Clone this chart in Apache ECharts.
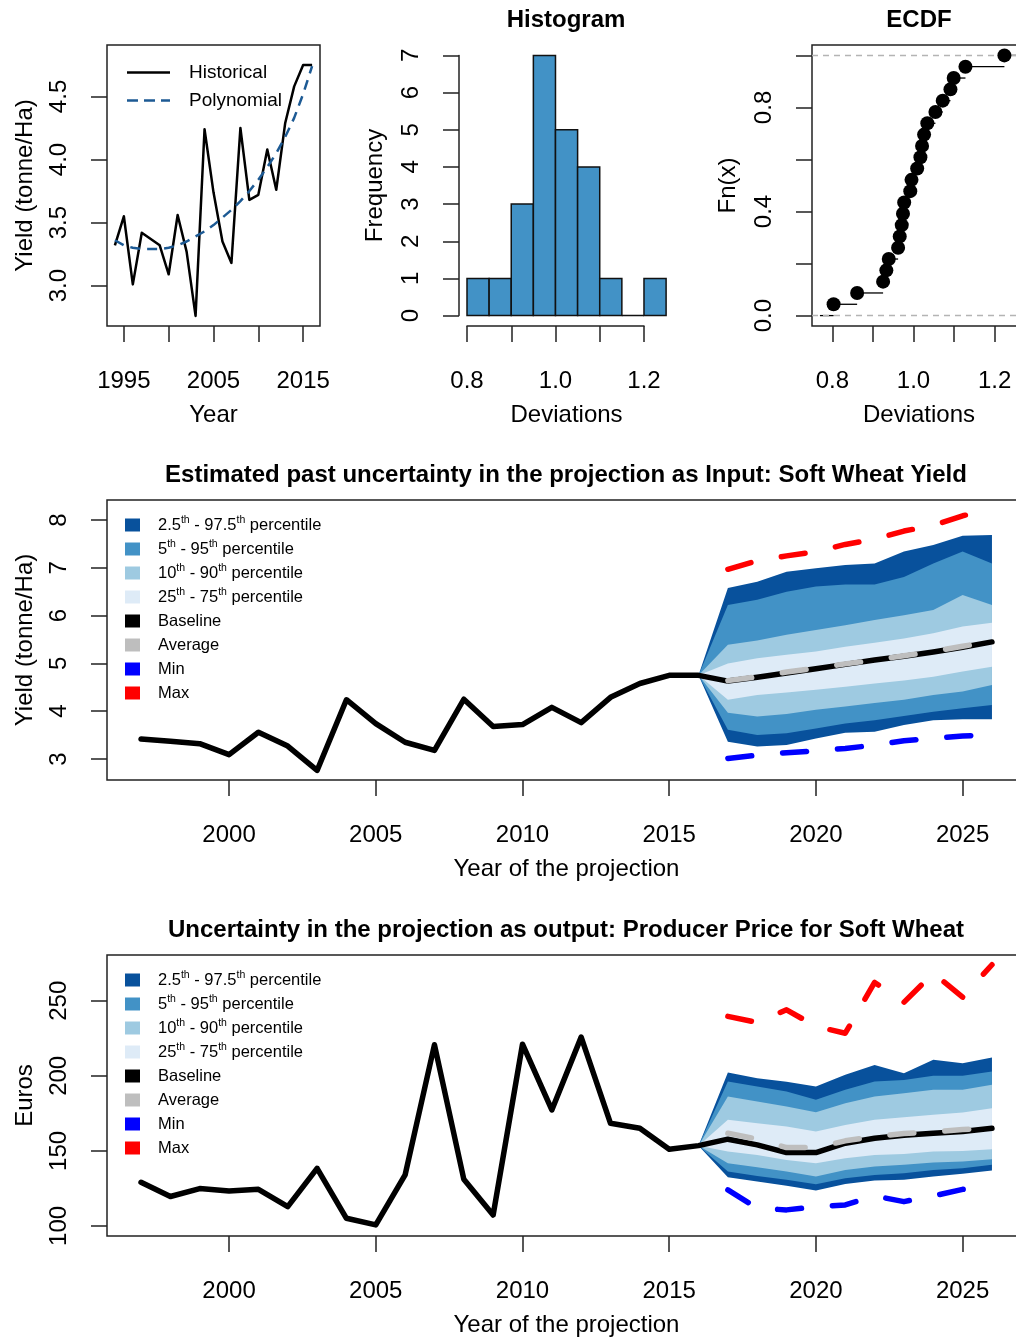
<!DOCTYPE html>
<html>
<head>
<meta charset="utf-8">
<script src="https://cdn.jsdelivr.net/npm/echarts@6/dist/echarts.min.js"></script>
<style>
  html, body { margin: 0; padding: 0; background: #fff; }
  #chart { width: 1016px; height: 1339px; }
</style>
</head>
<body>
<div id="chart"></div>
<script>
// ---------- Historical soft wheat yield (tonne/Ha) and its polynomial trend ----------
const histYears = [1994, 1995, 1996, 1997, 1998, 1999, 2000, 2001, 2002, 2003, 2004, 2005,
                   2006, 2007, 2008, 2009, 2010, 2011, 2012, 2013, 2014, 2015, 2016];
const histYield = [3.32, 3.55, 3.01, 3.42, 3.37, 3.32, 3.09, 3.56, 3.27, 2.76, 4.24, 3.74,
                   3.35, 3.18, 4.25, 3.68, 3.72, 4.08, 3.76, 4.29, 4.58, 4.75, 4.75];
const polyYield = [3.36, 3.32, 3.30, 3.29, 3.29, 3.29, 3.30, 3.32, 3.35, 3.39, 3.43, 3.48,
                   3.54, 3.60, 3.67, 3.75, 3.84, 3.94, 4.05, 4.18, 4.33, 4.52, 4.74];

// Relative deviations of the observed yield from the trend (sorted)
const deviations = [0.803, 0.861, 0.925, 0.933, 0.939, 0.962, 0.966, 0.971, 0.974, 0.977,
                    0.992, 0.995, 1.009, 1.017, 1.021, 1.026, 1.034, 1.054, 1.072, 1.091,
                    1.099, 1.128, 1.224];
const histBreaks = [0.80, 0.85, 0.90, 0.95, 1.00, 1.05, 1.10, 1.15, 1.20, 1.25];

// ---------- Projection years ----------
const projYears = [2017, 2018, 2019, 2020, 2021, 2022, 2023, 2024, 2025, 2026];

// Yield projection (tonne/Ha)
const yieldBaseline = [4.63, 4.71, 4.80, 4.89, 4.98, 5.07, 5.15, 5.24, 5.34, 5.45];
const yieldAverage  = [4.64, 4.72, 4.82, 4.90, 4.99, 5.07, 5.16, 5.25, 5.36, 5.46];
const yieldP025 = [3.36, 3.26, 3.29, 3.43, 3.55, 3.57, 3.71, 3.81, 3.83, 3.83];
const yieldP05  = [3.61, 3.50, 3.54, 3.64, 3.74, 3.81, 3.90, 3.99, 4.06, 4.13];
const yieldP10  = [3.97, 3.89, 3.94, 4.03, 4.10, 4.17, 4.24, 4.34, 4.41, 4.55];
const yieldP25  = [4.24, 4.34, 4.39, 4.45, 4.51, 4.58, 4.64, 4.72, 4.83, 4.93];
const yieldP75  = [5.00, 5.11, 5.18, 5.25, 5.35, 5.43, 5.52, 5.63, 5.77, 5.85];
const yieldP90  = [5.39, 5.48, 5.60, 5.70, 5.80, 5.91, 6.01, 6.12, 6.43, 6.22];
const yieldP95  = [6.22, 6.33, 6.50, 6.61, 6.65, 6.65, 6.81, 7.09, 7.34, 7.09];
const yieldP975 = [6.58, 6.71, 6.92, 6.99, 7.06, 7.09, 7.34, 7.48, 7.67, 7.69];
const yieldMin  = [3.01, 3.08, 3.13, 3.17, 3.22, 3.29, 3.38, 3.43, 3.48, 3.51];
const yieldMax  = [6.97, 7.15, 7.25, 7.34, 7.49, 7.60, 7.77, 7.89, 8.09, 8.22];

// Producer price for soft wheat (Euros)
const priceYears = [1997, 1998, 1999, 2000, 2001, 2002, 2003, 2004, 2005, 2006,
                    2007, 2008, 2009, 2010, 2011, 2012, 2013, 2014, 2015, 2016];
const priceHist = [129.1, 119.6, 124.9, 123.3, 124.4, 112.9, 138.4, 105.1, 100.7, 134.0,
                   220.7, 131.1, 107.3, 221.1, 177.3, 225.8, 168.4, 165.1, 151.1, 153.5];
const priceBaseline = [157.8, 154.0, 148.9, 148.9, 155.1, 158.4, 160.4, 161.8, 162.9, 165.1];
const priceAverage  = [161.8, 157.8, 152.2, 152.2, 156.7, 159.6, 161.6, 162.7, 164.2, 165.6];
const priceP025 = [132.4, 129.6, 126.7, 123.6, 128.0, 130.2, 130.7, 132.9, 134.7, 136.9];
const priceP05  = [136.2, 133.3, 130.7, 127.8, 131.8, 134.0, 135.1, 137.3, 138.4, 140.7];
const priceP10  = [141.8, 139.1, 136.2, 132.9, 137.3, 139.6, 140.7, 142.2, 142.9, 144.4];
const priceP25  = [149.6, 147.3, 144.0, 141.8, 145.1, 147.3, 148.0, 149.6, 150.0, 151.1];
const priceP75  = [170.7, 168.4, 166.2, 162.9, 167.3, 170.7, 172.4, 174.0, 175.6, 178.4];
const priceP90  = [186.2, 182.9, 179.6, 175.8, 181.8, 186.2, 188.4, 190.7, 190.7, 194.0];
const priceP95  = [196.2, 192.9, 189.6, 184.0, 190.7, 196.2, 197.3, 200.0, 200.0, 202.9];
const priceP975 = [202.2, 198.4, 196.0, 192.9, 200.7, 207.3, 201.8, 210.7, 208.4, 212.2];
const priceMin  = [124.0, 111.8, 110.7, 112.9, 114.0, 120.0, 116.2, 120.0, 124.4, 125.5];
const priceMax  = [239.6, 235.6, 244.0, 232.9, 228.4, 262.2, 249.0, 268.4, 252.4, 274.0];

// Tick labels
const yearTicksTop = [1995, 2000, 2005, 2010, 2015];
const yearLabelsTop = [1995, 2005, 2015];
const yearTicksProj = [2000, 2005, 2010, 2015, 2020, 2025];
const yieldTicksTop = [3.0, 3.5, 4.0, 4.5];
const devTicks = [0.8, 0.9, 1.0, 1.1, 1.2];
const devLabels = [0.8, 1.0, 1.2];
const freqTicks = [0, 1, 2, 3, 4, 5, 6, 7];
const fnTicks = [0.0, 0.2, 0.4, 0.6, 0.8, 1.0];
const fnLabels = [0.0, 0.4, 0.8];
const yieldTicksProj = [3, 4, 5, 6, 7, 8];
const priceTicks = [100, 150, 200, 250];

// ---------- Styling ----------
const FONT = '"Liberation Sans", Arial, Helvetica, sans-serif';
const BAND_COLORS = ['#08519c', '#4292c6', '#9ecae1', '#deebf7'];
const BAND_NAMES = ['2.5th - 97.5th percentile', '5th - 95th percentile',
                    '10th - 90th percentile', '25th - 75th percentile'];
const BAND_RICH = {
  '2.5th - 97.5th percentile': '2.5{sup|th} - 97.5{sup|th} percentile',
  '5th - 95th percentile': '5{sup|th} - 95{sup|th} percentile',
  '10th - 90th percentile': '10{sup|th} - 90{sup|th} percentile',
  '25th - 75th percentile': '25{sup|th} - 75{sup|th} percentile'
};
const txt = { color: '#000', fontFamily: FONT, fontSize: 24 };
const frame = { show: true, borderColor: '#222', borderWidth: 1.5, backgroundColor: 'transparent' };

// Legend keys for the two trend lines: a solid bar and a dashed bar
const ICON_SOLID = 'path://M0,0h43v2.6h-43z';
const ICON_DASHED = 'path://M0,0h11v2.6h-11z M17,0h11v2.6h-11z M34,0h9v2.6h-9z';

const zip = (xs, ys) => xs.map((x, i) => [x, ys[i]]);

function axis(o) {
  const hasTicks = !!o.ticks;
  return {
    type: 'value', gridIndex: o.grid, min: o.min, max: o.max,
    show: o.show !== false,
    offset: o.offset || 0,
    axisLine: { show: !!o.line, onZero: false, lineStyle: { color: '#222', width: 1.5 } },
    axisTick: { show: hasTicks, length: 16, customValues: o.ticks,
                lineStyle: { color: '#222', width: 1.5 } },
    axisLabel: Object.assign({ show: hasTicks, customValues: o.labels || o.ticks,
                 margin: o.margin, rotate: o.rotate || 0,
                 formatter: o.fmt || (v => String(v)) }, txt),
    splitLine: { show: false },
    name: o.name, nameLocation: 'middle', nameGap: o.nameGap,
    nameRotate: o.nameRotate, nameTextStyle: txt
  };
}
const f1 = v => v.toFixed(1);

// ---------- ECDF geometry (same extension rule as a step function plot) ----------
const devSorted = deviations.slice().sort((a, b) => a - b);
const nDev = devSorted.length;
const diffs = devSorted.slice(1).map((v, i) => v - devSorted[i]).sort((a, b) => a - b);
const medDiff = diffs[Math.floor(diffs.length / 2)];
const dr = Math.max(0.08 * (devSorted[nDev - 1] - devSorted[0]), medDiff);
const ecdfLo = devSorted[0] - dr, ecdfHi = devSorted[nDev - 1] + dr;
const ecdfPad = 0.04 * (ecdfHi - ecdfLo);
const ecdfPoints = devSorted.map((v, i) => [v, (i + 1) / nDev]);
const ecdfSegments = [[ecdfLo, devSorted[0], 0]].concat(
  devSorted.map((v, i) => [v, i < nDev - 1 ? devSorted[i + 1] : ecdfHi, (i + 1) / nDev]));

// ---------- Histogram counts (right-closed bins) ----------
const histBins = histBreaks.slice(0, -1).map((b0, i) => {
  const b1 = histBreaks[i + 1];
  const n = deviations.filter(d => (i === 0 ? d >= b0 : d > b0) && d <= b1).length;
  return [b0, b1, n];
});

// ---------- Fan chart builder ----------
function fanSeries(gi, originYear, originValue, bands, baseline, average, vmin, vmax, histX, histY) {
  const out = [];
  bands.forEach((b, k) => {
    out.push({
      type: 'custom', name: BAND_NAMES[k], xAxisIndex: gi, yAxisIndex: gi,
      itemStyle: { color: BAND_COLORS[k] }, silent: true, clip: true, z: 1 + k,
      data: [[originYear, originValue]],
      renderItem: (params, api) => {
        const pts = [api.coord([originYear, originValue])];
        projYears.forEach((y, i) => pts.push(api.coord([y, b[1][i]])));
        for (let i = projYears.length - 1; i >= 0; i--) pts.push(api.coord([projYears[i], b[0][i]]));
        return { type: 'polygon', shape: { points: pts }, style: { fill: BAND_COLORS[k] } };
      }
    });
  });
  const lineCommon = { type: 'line', xAxisIndex: gi, yAxisIndex: gi, symbol: 'none', silent: true };
  out.push(Object.assign({}, lineCommon, {
    name: 'Baseline', z: 10, itemStyle: { color: '#000' },
    lineStyle: { color: '#000', width: 5.5, join: 'round', cap: 'round' },
    data: zip(histX.concat(projYears), histY.concat(baseline))
  }));
  out.push(Object.assign({}, lineCommon, {
    name: 'Average', z: 11, itemStyle: { color: '#bebebe' },
    lineStyle: { color: '#bebebe', width: 5.5, type: [24, 31], cap: 'round', join: 'round' },
    data: zip(projYears, average)
  }));
  out.push(Object.assign({}, lineCommon, {
    name: 'Min', z: 12, itemStyle: { color: '#0000ff' },
    lineStyle: { color: '#0000ff', width: 5.5, type: [24, 31], cap: 'round', join: 'round' },
    data: zip(projYears, vmin)
  }));
  out.push(Object.assign({}, lineCommon, {
    name: 'Max', z: 12, itemStyle: { color: '#ff0000' },
    lineStyle: { color: '#ff0000', width: 5.5, type: [24, 31], cap: 'round', join: 'round' },
    data: zip(projYears, vmax)
  }));
  return out;
}

function fanLegend(top) {
  const items = BAND_NAMES.map((n, k) => ({ name: n, icon: 'rect', itemStyle: { color: BAND_COLORS[k] } }))
    .concat([
      { name: 'Baseline', icon: 'rect', itemStyle: { color: '#000' } },
      { name: 'Average', icon: 'rect', itemStyle: { color: '#bebebe' } },
      { name: 'Min', icon: 'rect', itemStyle: { color: '#0000ff' } },
      { name: 'Max', icon: 'rect', itemStyle: { color: '#ff0000' } }
    ]);
  return {
    orient: 'vertical', left: 125, top: top, itemWidth: 15, itemHeight: 13, itemGap: 4,
    selectedMode: false, data: items, padding: 0,
    formatter: n => BAND_RICH[n] || n,
    textStyle: {
      color: '#000', fontFamily: FONT, fontSize: 16.5, lineHeight: 20, padding: [0, 0, 0, 13],
      rich: { sup: { fontSize: 10.5, fontFamily: FONT, color: '#000', verticalAlign: 'top', lineHeight: 20, padding: [0, 0, 6, 0] } }
    }
  };
}

const yieldOrigin = histYield[histYears.indexOf(2016)];
const priceOrigin = priceHist[priceYears.indexOf(2016)];
const yieldHistX = histYears.filter(y => y >= 1997);
const yieldHistY = histYield.filter((v, i) => histYears[i] >= 1997);

const titleStyle = { fontFamily: FONT, fontSize: 24, fontWeight: 'bold', color: '#000' };

const option = {
  backgroundColor: '#fff',
  animation: false,
  title: [
    { text: 'Histogram', left: 566, top: 8, textAlign: 'center', padding: 0, textStyle: titleStyle },
    { text: 'ECDF', left: 919, top: 8, textAlign: 'center', padding: 0, textStyle: titleStyle },
    { text: 'Estimated past uncertainty in the projection as Input: Soft Wheat Yield', left: 566, top: 463,
      textAlign: 'center', padding: 0, textStyle: titleStyle },
    { text: 'Uncertainty in the projection as output: Producer Price for Soft Wheat', left: 566, top: 918,
      textAlign: 'center', padding: 0, textStyle: titleStyle }
  ],
  legend: [
    { orient: 'vertical', left: 127, top: 63, itemWidth: 43, itemHeight: 3, itemGap: 9,
      selectedMode: false, padding: 0,
      data: [
        { name: 'Historical', icon: ICON_SOLID, itemStyle: { color: '#000', borderWidth: 0 } },
        { name: 'Polynomial', icon: ICON_DASHED, itemStyle: { color: '#1d5a94', borderWidth: 0 } }
      ],
      textStyle: { color: '#000', fontFamily: FONT, fontSize: 19, padding: [0, 0, 0, 14] } },
    fanLegend(515),
    fanLegend(970)
  ],
  grid: [
    Object.assign({ left: 107, top: 45, width: 213, height: 281, outerBoundsMode: 'none' }, frame),
    { left: 467, top: 55.4, width: 199.1, height: 260.2, show: false, outerBoundsMode: 'none' },
    { left: 467, top: 55.4, width: 177.0, height: 260.2, show: false, outerBoundsMode: 'none' },
    Object.assign({ left: 812, top: 45, width: 214, height: 281, outerBoundsMode: 'none' }, frame),
    Object.assign({ left: 107, top: 500, width: 919, height: 280, outerBoundsMode: 'none' }, frame),
    Object.assign({ left: 107, top: 955, width: 919, height: 281, outerBoundsMode: 'none' }, frame)
  ],
  xAxis: [
    axis({ grid: 0, min: 1993.12, max: 2016.88, ticks: yearTicksTop, labels: yearLabelsTop,
           margin: 43, name: 'Year', nameGap: 77 }),
    // histogram plot region: carries only the axis title, centred under the plot
    axis({ grid: 1, min: 0.8, max: 1.25, offset: 10.4, name: 'Deviations', nameGap: 77 }),
    // histogram axis line spanning the labelled range only
    axis({ grid: 2, min: 0.8, max: 1.2, line: true, offset: 10.4, ticks: devTicks, labels: devLabels,
           fmt: f1, margin: 43 }),
    axis({ grid: 3, min: ecdfLo - ecdfPad, max: ecdfHi + ecdfPad, ticks: devTicks, labels: devLabels,
           fmt: f1, margin: 43, name: 'Deviations', nameGap: 77 }),
    axis({ grid: 4, min: 1995.84, max: 2027.16, ticks: yearTicksProj, margin: 43,
           name: 'Year of the projection', nameGap: 77 }),
    axis({ grid: 5, min: 1995.84, max: 2027.16, ticks: yearTicksProj, margin: 43,
           name: 'Year of the projection', nameGap: 77 })
  ],
  yAxis: [
    axis({ grid: 0, min: 2.68, max: 4.908, ticks: yieldTicksTop, fmt: f1, rotate: 90, margin: 36,
           name: 'Yield (tonne/Ha)', nameGap: 70, nameRotate: 90 }),
    axis({ grid: 1, min: 0, max: 7, line: true, offset: 8, ticks: freqTicks, rotate: 90, margin: 36,
           name: 'Frequency', nameGap: 72, nameRotate: 90 }),
    axis({ grid: 2, min: 0, max: 7, show: false }),
    axis({ grid: 3, min: -0.04, max: 1.04, ticks: fnTicks, labels: fnLabels, fmt: f1, rotate: 90,
           margin: 36, name: 'Fn(x)', nameGap: 72, nameRotate: 90 }),
    axis({ grid: 4, min: 2.56, max: 8.42, ticks: yieldTicksProj, rotate: 90, margin: 36,
           name: 'Yield (tonne/Ha)', nameGap: 70, nameRotate: 90 }),
    axis({ grid: 5, min: 93.3, max: 280.5, ticks: priceTicks, rotate: 90, margin: 36,
           name: 'Euros', nameGap: 70, nameRotate: 90 })
  ],
  series: [
    // Historical yield and its trend
    { type: 'line', name: 'Historical', xAxisIndex: 0, yAxisIndex: 0, symbol: 'none', silent: true,
      itemStyle: { color: '#000' }, lineStyle: { color: '#000', width: 2.5, join: 'round' },
      data: zip(histYears, histYield), z: 3 },
    { type: 'line', name: 'Polynomial', xAxisIndex: 0, yAxisIndex: 0, symbol: 'none', silent: true,
      itemStyle: { color: '#1d5a94' }, lineStyle: { color: '#1d5a94', width: 2.5, type: [10, 7] },
      data: zip(histYears, polyYield), z: 4 },
    // Histogram of the deviations
    { type: 'custom', name: 'Frequency', xAxisIndex: 1, yAxisIndex: 1, silent: true,
      data: histBins, encode: { x: [0, 1], y: 2 },
      renderItem: (params, api) => {
        const p0 = api.coord([api.value(0), 0]);
        const p1 = api.coord([api.value(1), api.value(2)]);
        return { type: 'rect',
          shape: { x: p0[0], y: p1[1], width: p1[0] - p0[0], height: p0[1] - p1[1] },
          style: { fill: '#4292c6', stroke: '#111', lineWidth: 1.5 } };
      } },
    // Empirical cumulative distribution: horizontal steps
    { type: 'custom', name: 'steps', xAxisIndex: 3, yAxisIndex: 3, silent: true, clip: true,
      data: ecdfSegments, encode: { x: [0, 1], y: 2 },
      renderItem: (params, api) => {
        const a = api.coord([api.value(0), api.value(2)]);
        const b = api.coord([api.value(1), api.value(2)]);
        return { type: 'line', shape: { x1: a[0], y1: a[1], x2: b[0], y2: b[1] },
                 style: { stroke: '#000', lineWidth: 1.3 } };
      } },
    { type: 'scatter', name: 'Fn(x)', xAxisIndex: 3, yAxisIndex: 3, silent: true,
      symbol: 'circle', symbolSize: 14, itemStyle: { color: '#000', opacity: 1 }, data: ecdfPoints, z: 5,
      markLine: { silent: true, symbol: 'none', label: { show: false },
        lineStyle: { color: '#b4b4b4', width: 1.3, type: [6, 5] },
        data: [{ yAxis: 0 }, { yAxis: 1 }] } }
  ]
    .concat(fanSeries(4, 2016, yieldOrigin,
      [[yieldP025, yieldP975], [yieldP05, yieldP95], [yieldP10, yieldP90], [yieldP25, yieldP75]],
      yieldBaseline, yieldAverage, yieldMin, yieldMax, yieldHistX, yieldHistY))
    .concat(fanSeries(5, 2016, priceOrigin,
      [[priceP025, priceP975], [priceP05, priceP95], [priceP10, priceP90], [priceP25, priceP75]],
      priceBaseline, priceAverage, priceMin, priceMax, priceYears, priceHist))
};

const chart = echarts.init(document.getElementById('chart'), null, { renderer: 'canvas', width: 1016, height: 1339 });
chart.setOption(option);
</script>
</body>
</html>
